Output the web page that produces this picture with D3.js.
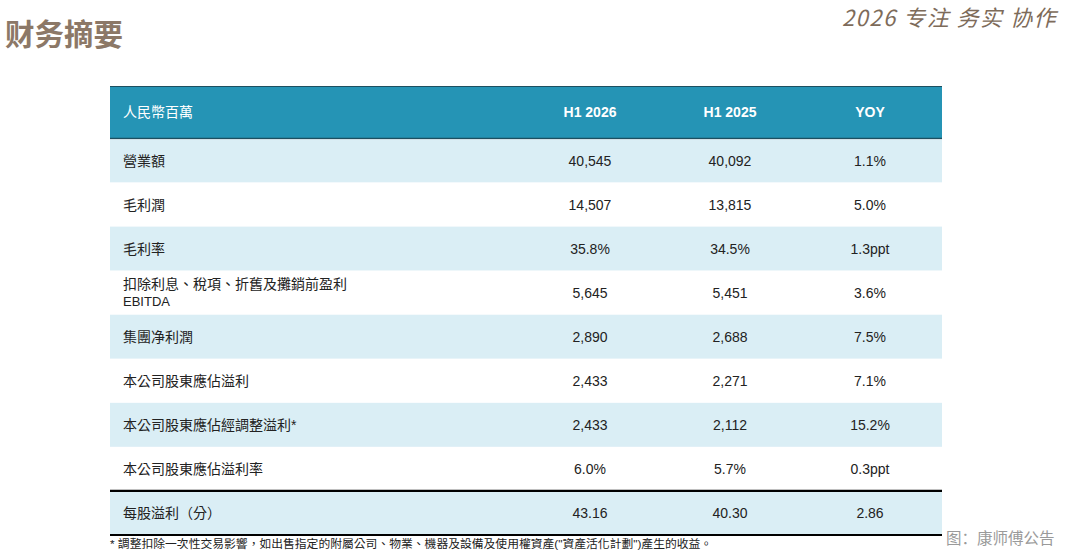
<!DOCTYPE html>
<html><head><meta charset="utf-8">
<script src="https://cdn.jsdelivr.net/npm/d3@7"></script>
<style>
html,body{margin:0;padding:0;background:#fff;}
svg{display:block;}
</style></head>
<body>
<svg id="c" width="1065" height="557"></svg>
<script>
const columns = ["人民幣百萬", "H1 2026", "H1 2025", "YOY"];
const rowLabels = ["營業額", "毛利潤", "毛利率", "扣除利息、稅項、折舊及攤銷前盈利|EBITDA", "集團净利潤", "本公司股東應佔溢利", "本公司股東應佔經調整溢利*", "本公司股東應佔溢利率", "每股溢利（分）"];
const h12026 = ["40,545", "14,507", "35.8%", "5,645", "2,890", "2,433", "2,433", "6.0%", "43.16"];
const h12025 = ["40,092", "13,815", "34.5%", "5,451", "2,688", "2,271", "2,112", "5.7%", "40.30"];
const yoy = ["1.1%", "5.0%", "1.3ppt", "3.6%", "7.5%", "7.1%", "15.2%", "0.3ppt", "2.86"];
const title = "财务摘要";
const slogan = "2026 专注 务实 协作";
const footnote = "* 調整扣除一次性交易影響，如出售指定的附屬公司、物業、機器及設備及使用權資產(\"資產活化計劃\")產生的收益。";
const source = "图：康师傅公告";

const svg = d3.select("#c");
const font = "'Liberation Sans','Noto Sans CJK TC','Noto Sans CJK SC',sans-serif";

svg.append("text").attr("x", 5).attr("y", 45).text(title)
  .attr("font-family", "'Noto Sans CJK SC',sans-serif").attr("font-weight", 700)
  .attr("font-size", 29.5).attr("fill", "#8c7867");

svg.append("text").attr("x", 1057).attr("y", 26).attr("text-anchor", "end").text(slogan)
  .attr("font-family", "'Noto Sans CJK SC',sans-serif").attr("font-style", "italic")
  .attr("font-size", 22).attr("fill", "#7d6b5a").attr("letter-spacing", 1.5);

const left = 110, right = 942;
const headerTop = 86, headerBottom = 138.5;
const y = d3.scaleBand().domain(d3.range(rowLabels.length)).range([headerBottom, 535]);
const colX = d3.scaleOrdinal().domain(columns.slice(1)).range([590, 730, 870]);

// header
svg.append("rect").attr("x", left).attr("y", headerTop).attr("width", right - left)
  .attr("height", headerBottom - headerTop).attr("fill", "#2594b5");
svg.append("line").attr("x1", left).attr("x2", right).attr("y1", headerTop + 0.5).attr("y2", headerTop + 0.5)
  .attr("stroke", "#1d4f60").attr("stroke-width", 1);
svg.append("line").attr("x1", left).attr("x2", right).attr("y1", headerBottom).attr("y2", headerBottom)
  .attr("stroke", "#1d4f60").attr("stroke-width", 1.5);

const hy = (headerTop + headerBottom) / 2 + 5;
svg.append("text").attr("x", 123).attr("y", hy).text(columns[0])
  .attr("font-family", font).attr("font-size", 14).attr("fill", "#fff");
columns.slice(1).forEach(c => {
  svg.append("text").attr("x", colX(c)).attr("y", hy).attr("text-anchor", "middle").text(c)
    .attr("font-family", font).attr("font-size", 14).attr("font-weight", 700).attr("fill", "#fff");
});

const rows = svg.selectAll("g.row").data(rowLabels.map((l, i) => ({l, i})))
  .join("g").attr("class", "row");
rows.append("rect").attr("x", left).attr("width", right - left)
  .attr("y", d => y(d.i) + (d.i === 0 ? 1 : 0)).attr("height", d => y.bandwidth() - (d.i === 0 ? 1 : 0))
  .attr("fill", d => d.i % 2 === 0 ? "#daeef5" : "#ffffff");

rows.each(function(d) {
  const g = d3.select(this);
  const cy = y(d.i) + y.bandwidth() / 2;
  const parts = d.l.split("|");
  if (parts.length === 2) {
    g.append("text").attr("x", 123).attr("y", cy - 4).text(parts[0])
      .attr("font-family", font).attr("font-size", 14).attr("fill", "#222");
    g.append("text").attr("x", 123).attr("y", cy + 13).text(parts[1])
      .attr("font-family", font).attr("font-size", 13).attr("fill", "#222");
  } else {
    g.append("text").attr("x", 123).attr("y", cy + 5).text(parts[0])
      .attr("font-family", font).attr("font-size", 14).attr("fill", "#222");
  }
  [h12026[d.i], h12025[d.i], yoy[d.i]].forEach((v, k) => {
    g.append("text").attr("x", colX(columns[k + 1])).attr("y", cy + 5).attr("text-anchor", "middle").text(v)
      .attr("font-family", font).attr("font-size", 14).attr("fill", "#222");
  });
});

// EPS row borders
const last = rowLabels.length - 1;
[y(last), y(last) + y.bandwidth()].forEach(yy => {
  svg.append("line").attr("x1", left).attr("x2", right).attr("y1", yy).attr("y2", yy)
    .attr("stroke", "#000").attr("stroke-width", 2.2);
});

svg.append("text").attr("x", 110).attr("y", 548).text(footnote)
  .attr("font-family", font).attr("font-size", 11.8).attr("fill", "#222");
svg.append("text").attr("x", 946).attr("y", 544).text(source)
  .attr("font-family", "'Noto Sans CJK SC',sans-serif").attr("font-size", 15.5).attr("fill", "#9a9a9a");
</script>
</body></html>
